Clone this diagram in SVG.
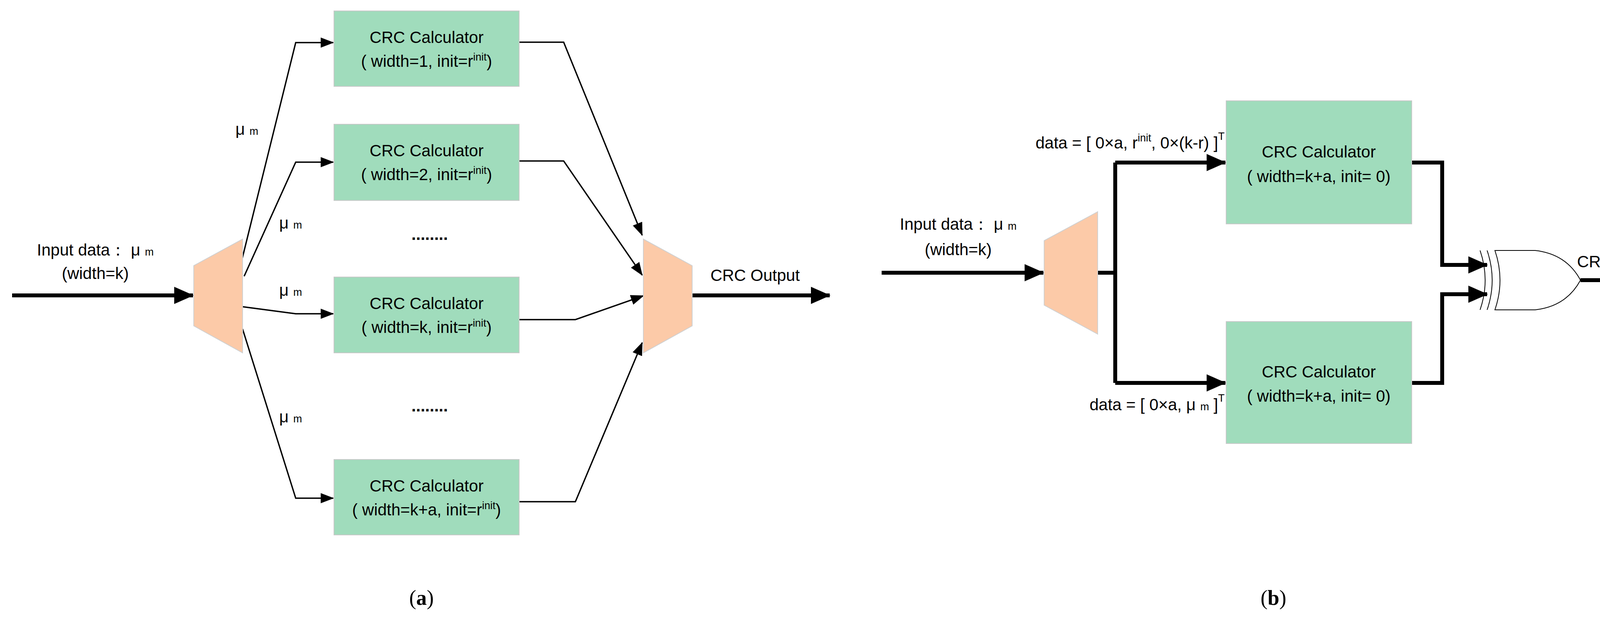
<svg xmlns="http://www.w3.org/2000/svg" width="4285" height="1597" viewBox="0 0 4285 1597">
<style>
.t{font-family:"Liberation Sans",Arial,sans-serif;font-size:42px;fill:#000}
.s{font-size:27px}
.box{fill:#a0dcbc;stroke:#c8c8c8;stroke-width:2}
.mux{fill:#fccaa8;stroke:#d0d0d0;stroke-width:2}
.thin{fill:none;stroke:#000;stroke-width:3.5;marker-end:url(#ah)}
.thick{fill:none;stroke:#000;stroke-width:10;marker-end:url(#ahb)}
.thickn{fill:none;stroke:#000;stroke-width:10}
.cap{font-family:"Liberation Serif",serif;font-size:54px;fill:#000}
</style>
<defs>
<marker id="ah" markerUnits="userSpaceOnUse" markerWidth="34" markerHeight="26" refX="32" refY="13" orient="auto"><path d="M0,0 L34,13 L0,26 z" fill="#000"/></marker>
<marker id="ahb" markerUnits="userSpaceOnUse" markerWidth="50" markerHeight="44" refX="48" refY="22" orient="auto"><path d="M0,0 L50,22 L0,44 z" fill="#000"/></marker>
</defs>
<rect width="4285" height="1597" fill="#fff"/>
<g id="connectors">
<path class="thick" d="M31,756 L494,756"/>
<path class="thin" d="M618,670 L757,109 L853,109"/>
<path class="thin" d="M625,707 L757,415 L853,415"/>
<path class="thin" d="M621,785 L757,803 L853,803"/>
<path class="thin" d="M621,842 L757,1275 L853,1275"/>
<path class="thin" d="M1329,108 L1443,108 L1644,602"/>
<path class="thin" d="M1329,412 L1443,412 L1644,704"/>
<path class="thin" d="M1329,818 L1473,818 L1647,757"/>
<path class="thin" d="M1329,1284 L1473,1284 L1644,877"/>
<path class="thick" d="M1769,756 L2124,756"/>
<path class="thick" d="M2257,698 L2671,698"/>
<path class="thickn" d="M2810,698 L2855,698 M2855,416 L2855,980"/>
<path class="thick" d="M2855,416 L3137,416"/>
<path class="thick" d="M2855,980 L3137,980"/>
<path class="thick" d="M3614,416 L3692,416 L3692,678 L3807,678"/>
<path class="thick" d="M3614,980 L3692,980 L3692,753 L3807,753"/>
<path class="thick" d="M4046,717 L4282,717"/>
</g>
<g id="mux-a-in"><polygon class="mux" points="496,680 621,612 621,903 496,834"/></g>
<g id="mux-a-out"><polygon class="mux" points="1647,612 1772,680 1772,834 1647,903"/></g>
<g id="box-a1"><rect class="box" x="855" y="28" width="474" height="193"/>
<text class="t" x="1092" y="110" text-anchor="middle">CRC Calculator</text>
<text class="t" x="1092" y="171" text-anchor="middle">( width=1, init=r<tspan class="s" dy="-16">init</tspan><tspan dy="16">)</tspan></text></g>
<g id="box-a2"><rect class="box" x="855" y="318" width="474" height="195"/>
<text class="t" x="1092" y="400" text-anchor="middle">CRC Calculator</text>
<text class="t" x="1092" y="461" text-anchor="middle">( width=2, init=r<tspan class="s" dy="-16">init</tspan><tspan dy="16">)</tspan></text></g>
<g id="box-a3"><rect class="box" x="855" y="709" width="474" height="194"/>
<text class="t" x="1092" y="791" text-anchor="middle">CRC Calculator</text>
<text class="t" x="1092" y="852" text-anchor="middle">( width=k, init=r<tspan class="s" dy="-16">init</tspan><tspan dy="16">)</tspan></text></g>
<g id="box-a4"><rect class="box" x="855" y="1176" width="474" height="193"/>
<text class="t" x="1092" y="1258" text-anchor="middle">CRC Calculator</text>
<text class="t" x="1092" y="1319" text-anchor="middle">( width=k+a, init=r<tspan class="s" dy="-16">init</tspan><tspan dy="16">)</tspan></text></g>
<g id="labels-a">
<text class="t" x="244" y="654" text-anchor="middle">Input data：  μ <tspan class="s">m</tspan></text>
<text class="t" x="244" y="714" text-anchor="middle">(width=k)</text>
<text class="t" x="632" y="345" text-anchor="middle">μ <tspan class="s">m</tspan></text>
<text class="t" x="744" y="585" text-anchor="middle">μ <tspan class="s">m</tspan></text>
<text class="t" x="744" y="757" text-anchor="middle">μ <tspan class="s">m</tspan></text>
<text class="t" x="744" y="1081" text-anchor="middle">μ <tspan class="s">m</tspan></text>
<text class="t" x="1100" y="614" text-anchor="middle" font-weight="bold">........</text>
<text class="t" x="1100" y="1053" text-anchor="middle" font-weight="bold">........</text>
<text class="t" x="1933" y="719" text-anchor="middle">CRC Output</text>
<text class="cap" x="1079" y="1548" text-anchor="middle">(<tspan font-weight="bold">a</tspan>)</text>
</g>
<g id="mux-b"><polygon class="mux" points="2673,616 2810,542 2810,855 2673,781"/></g>
<g id="box-b1"><rect class="box" x="3139" y="258" width="475" height="315"/>
<text class="t" x="3376" y="403" text-anchor="middle">CRC Calculator</text>
<text class="t" x="3376" y="466" text-anchor="middle">( width=k+a, init= 0)</text></g>
<g id="box-b2"><rect class="box" x="3139" y="823" width="475" height="312"/>
<text class="t" x="3376" y="966" text-anchor="middle">CRC Calculator</text>
<text class="t" x="3376" y="1028" text-anchor="middle">( width=k+a, init= 0)</text></g>
<g id="xor"><path d="M3789,641 Q3815,717 3789,793 M3807,641 Q3833,717 3807,793" fill="none" stroke="#000" stroke-width="2"/>
<path d="M3827,641 L3930,641 Q4010,650 4046,717 Q4010,784 3930,793 L3827,793 Q3853,717 3827,641 z" fill="#fff" stroke="#000" stroke-width="2"/></g>
<g id="labels-b">
<text class="t" x="2453" y="588" text-anchor="middle">Input data：  μ <tspan class="s">m</tspan></text>
<text class="t" x="2453" y="653" text-anchor="middle">(width=k)</text>
<text class="t" x="3135" y="380" text-anchor="end">data = [ 0×a, r<tspan class="s" dy="-18">init</tspan><tspan dy="18">, 0×(k-r) ]</tspan><tspan class="s" dy="-22">T</tspan></text>
<text class="t" x="3135" y="1050" text-anchor="end">data = [ 0×a,  μ <tspan class="s">m</tspan> ]<tspan class="s" dy="-22">T</tspan></text>
<text class="t" x="4266" y="684" text-anchor="end">CRC Output</text>
<text class="cap" x="3260" y="1548" text-anchor="middle">(<tspan font-weight="bold">b</tspan>)</text>
</g>
</svg>
